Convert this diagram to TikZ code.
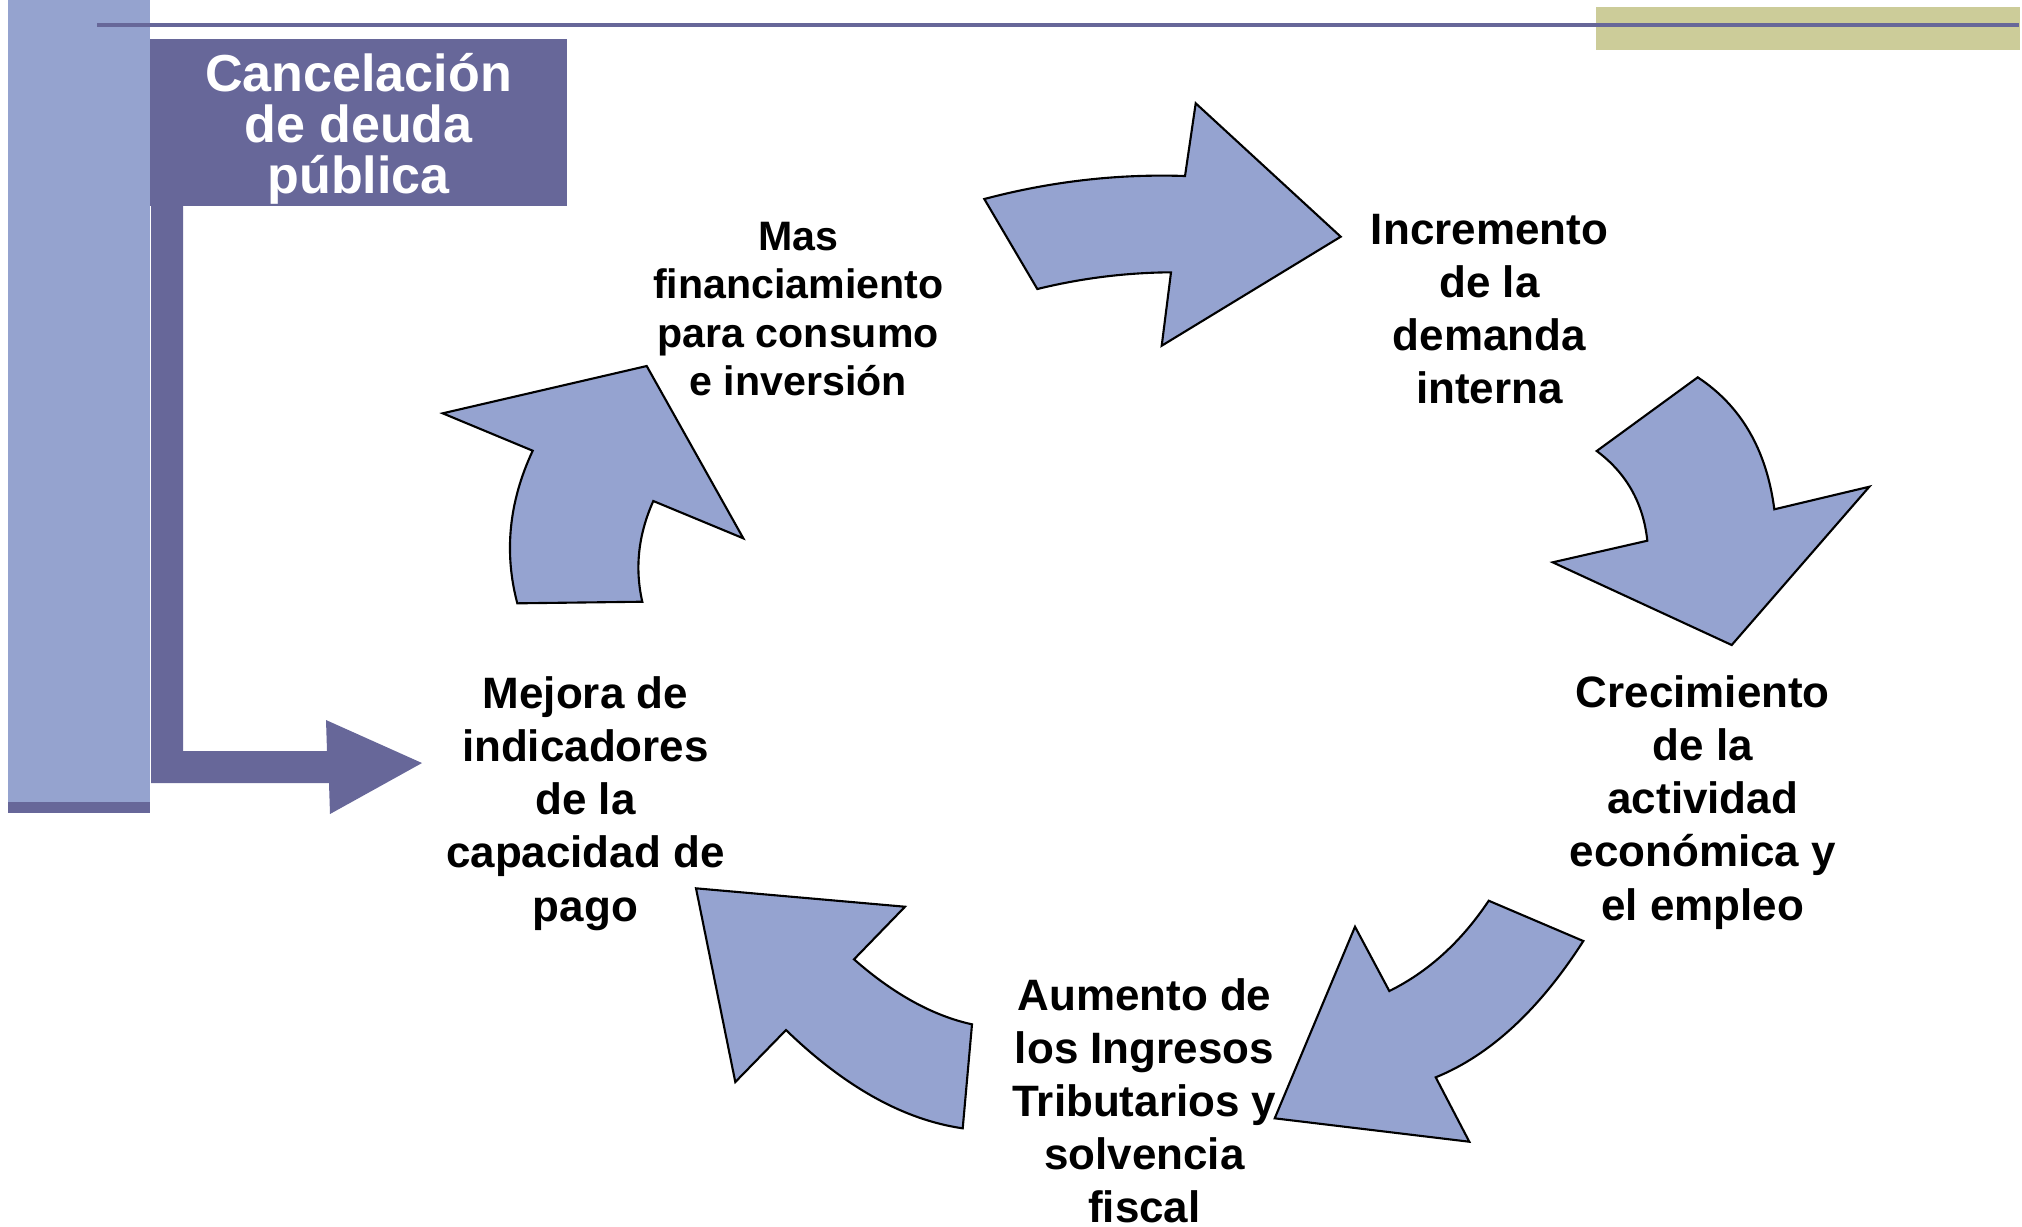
\documentclass[tikz,border=0pt]{standalone}
\usepackage{fontspec}
\setmainfont{Liberation Sans}
\definecolor{darkv}{RGB}{103,103,153}
\definecolor{lightv}{RGB}{149,163,207}
\definecolor{khakiv}{RGB}{204,204,153}
\definecolor{arrowv}{RGB}{149,163,208}
\begin{document}
\begin{tikzpicture}[x=0.01cm,y=-0.01cm,
  cyc/.style={fill=arrowv,draw=black,line width=0.6pt,line join=miter},
  lbl/.style={align=center,inner sep=0pt,font=\bfseries\fontsize{12.5}{15.1}\selectfont},
  lblsmall/.style={align=center,inner sep=0pt,font=\bfseries\fontsize{11.7}{13.8}\selectfont},
  titlebox/.style={fill=darkv,text=white,align=center,inner sep=0pt,
    minimum width=4.17cm,minimum height=1.67cm,
    font=\bfseries\fontsize{14.8}{14.5}\selectfont}]
\useasboundingbox (0,0) rectangle (2022,1226);
\clip (0,0) rectangle (2022,1226);
% side bar and top decoration
\fill[lightv] (8,0) rectangle (150,802);
\fill[darkv] (8,802) rectangle (150,813);
\fill[khakiv] (1596,7) rectangle (2020,50);
\fill[darkv] (97,22.5) rectangle (2019,26.7);
% title box
\fill[darkv] (150,39) rectangle (567,206);
\node[align=center,inner sep=0pt,text=white,font=\bfseries\fontsize{14.8}{14.5}\selectfont] (title) at (358.5,129) {Cancelación\\de deuda\\pública};
% L-shaped block arrow from title to the cycle
\fill[darkv] (151,206) -- (183,206) -- (183,751) -- (327,751) -- (326,720)
  -- (422,763) -- (330,814) -- (329,783) -- (151,783) -- cycle;
% cycle arrows
\draw[cyc] (984.3,199) .. controls (1051.2,181.3) and (1118.1,173.7) .. (1185,176)
  -- (1195.7,103.3) -- (1340.7,236.7) -- (1161.7,345.7) -- (1171,272.3)
  .. controls (1126.3,272.6) and (1081.7,278.1) .. (1037.3,289) -- cycle;
\draw[cyc] (1697.7,377.3) .. controls (1741.0,405.8) and (1766.6,449.8) .. (1774.3,509.3)
  -- (1869.3,486.7) -- (1731.7,645) -- (1552.7,562.3) -- (1647.3,540.7)
  .. controls (1643.3,503.0) and (1626.4,473.1) .. (1596.7,451) -- cycle;
\draw[cyc] (1488.7,900.7) -- (1583.3,941)
  .. controls (1539.2,1009.8) and (1490.0,1055.2) .. (1435.7,1077.3)
  -- (1469.3,1141.7) -- (1274.7,1118.3) -- (1355,926.7) -- (1389.3,991)
  .. controls (1428.2,971.8) and (1461.3,941.7) .. (1488.7,900.7) -- cycle;
\draw[cyc] (972,1024.3) .. controls (933.1,1015.8) and (893.7,994.2) .. (854,959.3)
  -- (905,906.7) -- (696,888.3) -- (735.3,1082) -- (786,1030)
  .. controls (844.9,1087) and (903.8,1119.8) .. (962.7,1128.3) -- cycle;
\draw[cyc] (517.3,603.3) -- (642.3,601.7)
  .. controls (634.6,568.1) and (638.3,534.5) .. (653.3,501)
  -- (743.3,538.3) -- (646.7,366) -- (442.7,413.3) -- (532.7,450.7)
  .. controls (508.9,501.6) and (503.8,552.4) .. (517.3,603.3) -- cycle;
% labels
\node[lblsmall] (mas) at (798.2,309) {Mas\\financiamiento\\para consumo\\e inversión};
\node[lbl] (incr) at (1489.4,308.8) {Incremento\\de la\\demanda\\interna};
\node[lbl] (crec) at (1702.8,802.5) {Crecimiento\\de la\\actividad\\económica y\\el empleo};
\node[lbl] (aum) at (1144.4,1100.6) {Aumento de\\los Ingresos\\Tributarios y\\solvencia\\fiscal};
\node[lbl] (mej) at (585.4,803.5) {Mejora de\\indicadores\\de la\\capacidad de\\pago};
\end{tikzpicture}
\end{document}
